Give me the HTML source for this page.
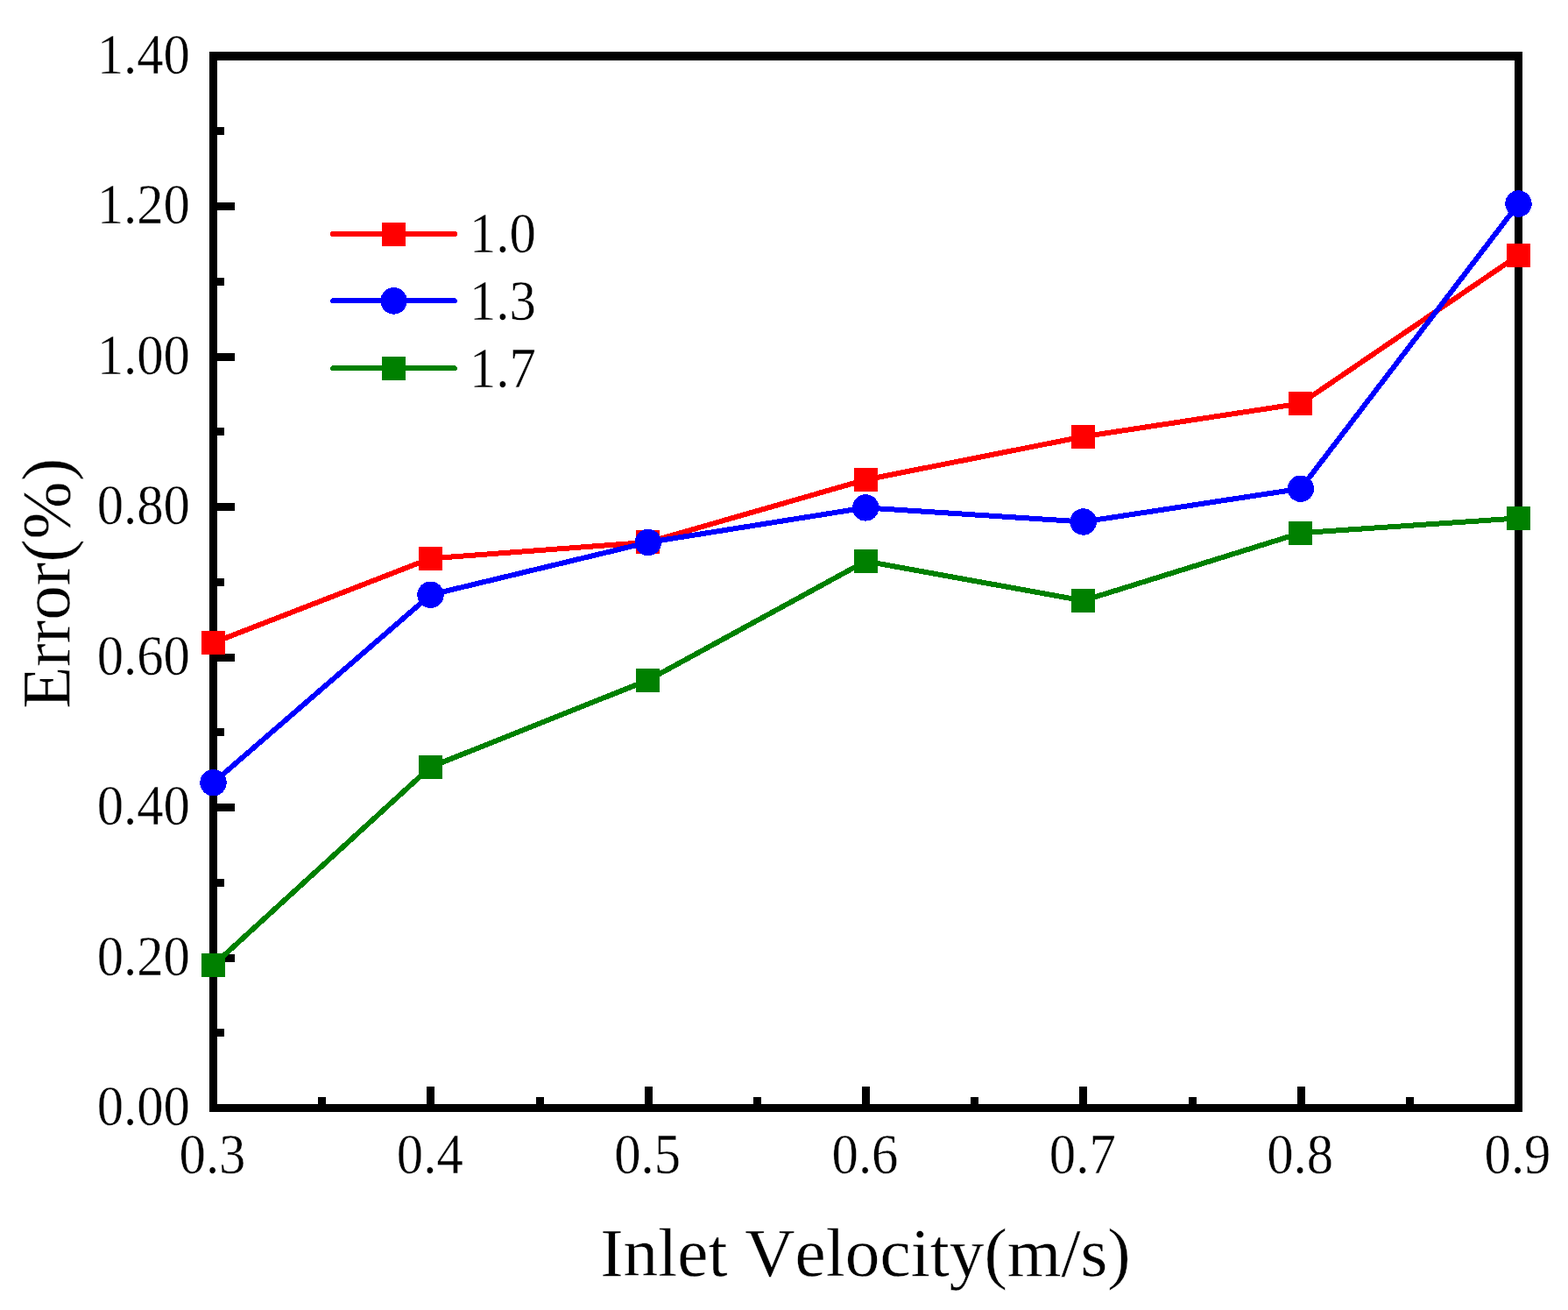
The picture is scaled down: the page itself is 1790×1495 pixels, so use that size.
<!DOCTYPE html>
<html><head><meta charset="utf-8"><title>Error vs Inlet Velocity</title>
<style>
html,body{margin:0;padding:0;background:#fff;}
body{width:1790px;height:1495px;overflow:hidden;}
svg{display:block;}
text{font-family:"Liberation Serif","Times New Roman",serif;font-kerning:none;stroke:#fff;stroke-width:0.4px;}
</style></head>
<body>
<svg width="1790" height="1495" viewBox="0 0 1790 1495">
<rect x="0" y="0" width="1790" height="1495" fill="#fff"/>
<g fill="#000" shape-rendering="crispEdges">
<rect x="239" y="59" width="9" height="1210"/>
<rect x="1729" y="59" width="9" height="1210"/>
<rect x="239" y="59" width="1499" height="10"/>
<rect x="239" y="1260" width="1499" height="9"/>
<rect x="248" y="1088.5" width="20" height="9"/>
<rect x="248" y="917.0" width="20" height="9"/>
<rect x="248" y="745.5" width="20" height="9"/>
<rect x="248" y="574.0" width="20" height="9"/>
<rect x="248" y="402.5" width="20" height="9"/>
<rect x="248" y="231.0" width="20" height="9"/>
<rect x="248" y="1174.2" width="8" height="9"/>
<rect x="248" y="1002.8" width="8" height="9"/>
<rect x="248" y="831.2" width="8" height="9"/>
<rect x="248" y="659.8" width="8" height="9"/>
<rect x="248" y="488.2" width="8" height="9"/>
<rect x="248" y="316.8" width="8" height="9"/>
<rect x="248" y="145.2" width="8" height="9"/>
<rect x="487.3" y="1240" width="9" height="20"/>
<rect x="735.7" y="1240" width="9" height="20"/>
<rect x="984.0" y="1240" width="9" height="20"/>
<rect x="1232.3" y="1240" width="9" height="20"/>
<rect x="1480.7" y="1240" width="9" height="20"/>
<rect x="363.2" y="1252" width="9" height="8"/>
<rect x="611.5" y="1252" width="9" height="8"/>
<rect x="859.8" y="1252" width="9" height="8"/>
<rect x="1108.2" y="1252" width="9" height="8"/>
<rect x="1356.5" y="1252" width="9" height="8"/>
<rect x="1604.8" y="1252" width="9" height="8"/>
</g>
<g font-family="Liberation Serif, Times New Roman, serif" font-size="62" fill="#000">
<text transform="translate(217,1284.2) scale(0.98,1.05)" text-anchor="end">0.00</text>
<text transform="translate(217,1112.7) scale(0.98,1.05)" text-anchor="end">0.20</text>
<text transform="translate(217,941.2) scale(0.98,1.05)" text-anchor="end">0.40</text>
<text transform="translate(217,769.7) scale(0.98,1.05)" text-anchor="end">0.60</text>
<text transform="translate(217,598.2) scale(0.98,1.05)" text-anchor="end">0.80</text>
<text transform="translate(217,426.7) scale(0.98,1.05)" text-anchor="end">1.00</text>
<text transform="translate(217,255.2) scale(0.98,1.05)" text-anchor="end">1.20</text>
<text transform="translate(217,83.7) scale(0.98,1.05)" text-anchor="end">1.40</text>
<text transform="translate(242.5,1339) scale(0.98,1.05)" text-anchor="middle">0.3</text>
<text transform="translate(490.8,1339) scale(0.98,1.05)" text-anchor="middle">0.4</text>
<text transform="translate(739.2,1339) scale(0.98,1.05)" text-anchor="middle">0.5</text>
<text transform="translate(987.5,1339) scale(0.98,1.05)" text-anchor="middle">0.6</text>
<text transform="translate(1235.8,1339) scale(0.98,1.05)" text-anchor="middle">0.7</text>
<text transform="translate(1484.2,1339) scale(0.98,1.05)" text-anchor="middle">0.8</text>
<text transform="translate(1732.5,1339) scale(0.98,1.05)" text-anchor="middle">0.9</text>
</g>
<text x="988" y="1456" text-anchor="middle" font-family="Liberation Serif, Times New Roman, serif" font-size="79.3">Inlet Velocity(m/s)</text>
<text transform="translate(79,666) rotate(-90)" x="0" y="0" text-anchor="middle" font-family="Liberation Serif, Times New Roman, serif" font-size="79.3">Error(%)</text>
<g shape-rendering="crispEdges">
<polyline points="243.5,733.5 491.5,637.3 739.8,618.8 988.2,547.5 1236.6,498.3 1484.9,460.5 1733.5,291.3" fill="none" stroke="#FF0000" stroke-width="6" stroke-linejoin="round" stroke-linecap="butt"/>
<rect x="230.0" y="720.0" width="27" height="27" fill="#FF0000"/><rect x="478.0" y="623.8" width="27" height="27" fill="#FF0000"/><rect x="726.3" y="605.3" width="27" height="27" fill="#FF0000"/><rect x="974.7" y="534.0" width="27" height="27" fill="#FF0000"/><rect x="1223.1" y="484.8" width="27" height="27" fill="#FF0000"/><rect x="1471.4" y="447.0" width="27" height="27" fill="#FF0000"/><rect x="1720.0" y="277.8" width="27" height="27" fill="#FF0000"/>
<polyline points="243.5,893.2 491.5,678.8 739.8,619.0 988.2,579.4 1236.6,595.5 1484.9,557.7 1733.5,232.5" fill="none" stroke="#0000FF" stroke-width="6" stroke-linejoin="round" stroke-linecap="butt"/>
<circle cx="243.5" cy="893.2" r="15.2" fill="#0000FF"/><circle cx="491.5" cy="678.8" r="15.2" fill="#0000FF"/><circle cx="739.8" cy="619.0" r="15.2" fill="#0000FF"/><circle cx="988.2" cy="579.4" r="15.2" fill="#0000FF"/><circle cx="1236.6" cy="595.5" r="15.2" fill="#0000FF"/><circle cx="1484.9" cy="557.7" r="15.2" fill="#0000FF"/><circle cx="1733.5" cy="232.5" r="15.2" fill="#0000FF"/>
<polyline points="243.5,1101.5 491.5,875.3 739.8,776.2 988.2,640.5 1236.6,685.5 1484.9,608.2 1733.5,591.4" fill="none" stroke="#008000" stroke-width="6" stroke-linejoin="round" stroke-linecap="butt"/>
<rect x="230.0" y="1088.0" width="27" height="27" fill="#008000"/><rect x="478.0" y="861.8" width="27" height="27" fill="#008000"/><rect x="726.3" y="762.7" width="27" height="27" fill="#008000"/><rect x="974.7" y="627.0" width="27" height="27" fill="#008000"/><rect x="1223.1" y="672.0" width="27" height="27" fill="#008000"/><rect x="1471.4" y="594.7" width="27" height="27" fill="#008000"/><rect x="1720.0" y="577.9" width="27" height="27" fill="#008000"/>
</g>
<g shape-rendering="crispEdges">
<line x1="380" y1="267.1" x2="519" y2="267.1" stroke="#FF0000" stroke-width="6" stroke-linecap="round"/>
<rect x="436.0" y="253.60000000000002" width="27" height="27" fill="#FF0000"/>
<line x1="380" y1="343.4" x2="519" y2="343.4" stroke="#0000FF" stroke-width="6" stroke-linecap="round"/>
<circle cx="449.5" cy="343.4" r="15.2" fill="#0000FF"/>
<line x1="380" y1="420.4" x2="519" y2="420.4" stroke="#008000" stroke-width="6" stroke-linecap="round"/>
<rect x="436.0" y="406.9" width="27" height="27" fill="#008000"/>
</g>
<g font-family="Liberation Serif, Times New Roman, serif" font-size="62" fill="#000">
<text transform="translate(536,288.2) scale(0.98,1.05)">1.0</text>
<text transform="translate(536,365.3) scale(0.98,1.05)">1.3</text>
<text transform="translate(536,442.3) scale(0.98,1.05)">1.7</text>
</g>
</svg>
</body></html>
